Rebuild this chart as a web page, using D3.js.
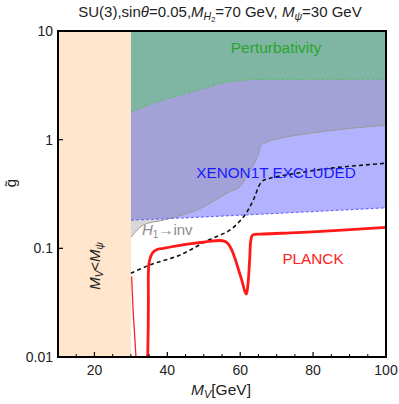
<!DOCTYPE html>
<html>
<head>
<meta charset="utf-8">
<script src="https://cdn.jsdelivr.net/npm/d3@7.9.0/dist/d3.min.js"></script>
<style>
  body { margin: 0; background: #fff; }
  text { font-family: "Liberation Sans", Arial, sans-serif; }
</style>
</head>
<body>
<svg id="chart" width="399" height="404"></svg>
<script>
// ---- data: [M_V (GeV), g~] ----
const perturbBoundary = [[30, 1.81], [37.4, 2.24], [46.7, 2.77], [55.8, 3.35], [61.3, 3.54], [80, 3.58], [100, 3.61]];
const xenonBoundary = [[30, 0.182], [45, 0.191], [61.3, 0.203], [80, 0.218], [100, 0.236]];
const invBoundary = [[30, 0.126], [33.4, 0.164], [38.9, 0.182], [48.1, 0.225], [56.3, 0.321], [59.9, 0.37],
  [61.8, 0.457], [65.0, 0.723], [66.1, 0.908], [100, 1.36]];
const dashedCurve = [[30, 0.059], [35.2, 0.0703], [43.5, 0.0869], [50.8, 0.117], [57.2, 0.1476], [61.3, 0.203],
  [63.6, 0.279], [65.9, 0.411], [68.2, 0.442], [75.5, 0.491], [84.6, 0.546], [100, 0.607]];
const planckLeft = [[30.2, 0.055], [30.6, 0.0271], [31.4, 0.01]];
const planckRight = [[34.6, 0.01], [34.75, 0.0178], [34.8, 0.0335], [34.85, 0.066], [35.2, 0.0795], [36.0, 0.0915],
  [37.2, 0.0975], [38.9, 0.1], [43.5, 0.1065], [48.1, 0.112], [52, 0.1165], [54.3, 0.118], [55.6, 0.1165],
  [56.6, 0.111], [57.6, 0.098], [58.6, 0.08], [59.6, 0.0625], [60.5, 0.05], [61.3, 0.04], [61.7, 0.038],
  [62.2, 0.05], [62.6, 0.08], [62.9, 0.118], [63.4, 0.1327], [66.3, 0.1355], [75.5, 0.1393], [84.6, 0.1445], [100, 0.156]];
const mvMin = 10, mvMax = 100, mPsi = 30;
const gMin = 0.01, gMax = 10;
const xTicks = [20, 40, 60, 80, 100];
const xMinorTicks = d3.range(15, 100, 5).filter(v => v % 20 !== 0);
const yTicks = [0.01, 0.1, 1, 10];
const yTickLabels = ['0.01', '0.1', '1', '10'];

// ---- layout ----
const svg = d3.select('#chart');
const m = { left: 58, right: 386, top: 31, bottom: 357 };
const x = d3.scaleLinear().domain([mvMin, mvMax]).range([m.left, m.right]);
const y = d3.scaleLog().domain([gMin, gMax]).range([m.bottom, m.top]);

const line = d3.line().x(d => x(d[0])).y(d => y(d[1]));
const smooth = d3.line().x(d => x(d[0])).y(d => y(d[1])).curve(d3.curveCatmullRom.alpha(0.5));
const areaUp = d3.area().x(d => x(d[0])).y0(y(gMax)).y1(d => y(d[1]));
const areaSmooth = d3.area().x(d => x(d[0])).y0(y(gMax)).y1(d => y(d[1])).curve(d3.curveCatmullRom.alpha(0.5));

svg.append('defs').append('clipPath').attr('id', 'clip')
  .append('rect').attr('x', m.left).attr('y', m.top)
  .attr('width', m.right - m.left).attr('height', m.bottom - m.top);

const plot = svg.append('g').attr('clip-path', 'url(#clip)');

// regions
plot.append('path').datum(xenonBoundary).attr('d', areaUp).attr('fill', '#0000ff').attr('fill-opacity', 0.3);
plot.append('path').datum(invBoundary).attr('d', areaSmooth).attr('fill', '#838383').attr('fill-opacity', 0.32);
plot.append('path').datum(invBoundary).attr('d', smooth).attr('fill', 'none').attr('stroke', '#9a9a9a').attr('stroke-width', 1);
plot.append('path').datum(xenonBoundary).attr('d', line).attr('fill', 'none')
  .attr('stroke', '#6b6bff').attr('stroke-width', 1.2).attr('stroke-dasharray', '3,2');
plot.append('path').datum(perturbBoundary).attr('d', areaSmooth).attr('fill', '#7fb5a3');
plot.append('path').datum(perturbBoundary).attr('d', smooth).attr('fill', 'none')
  .attr('stroke', '#5fbf6a').attr('stroke-width', 1.2).attr('stroke-dasharray', '3,2');
plot.append('rect').attr('x', x(mvMin)).attr('y', y(gMax))
  .attr('width', x(mPsi) - x(mvMin)).attr('height', y(gMin) - y(gMax)).attr('fill', '#fee5cc');

// curves
plot.append('path').datum(dashedCurve).attr('d', smooth).attr('fill', 'none')
  .attr('stroke', '#111').attr('stroke-width', 1.6).attr('stroke-dasharray', '4,3');
plot.append('path').datum(planckLeft).attr('d', line).attr('fill', 'none').attr('stroke', '#ff2020').attr('stroke-width', 1.3);
plot.append('path').datum(planckRight).attr('d', smooth).attr('fill', 'none')
  .attr('stroke', '#ff1a1a').attr('stroke-width', 2.8).attr('stroke-linejoin', 'round');

// in-plot labels
plot.append('text').attr('x', 276).attr('y', 53).attr('text-anchor', 'middle')
  .attr('font-size', 15.5).attr('fill', '#2aa52a').text('Perturbativity');
plot.append('text').attr('x', 276).attr('y', 178).attr('text-anchor', 'middle')
  .attr('font-size', 15.3).attr('fill', '#1a1aff').text('XENON1T EXCLUDED');
plot.append('text').attr('x', 313).attr('y', 264).attr('text-anchor', 'middle')
  .attr('font-size', 15.3).attr('fill', '#ff2020').text('PLANCK');
const inv = plot.append('text').attr('x', 142).attr('y', 235).attr('font-size', 15).attr('fill', '#8c8c8c');
inv.append('tspan').attr('font-style', 'italic').text('H');
inv.append('tspan').attr('font-size', 10).attr('dy', 3).text('1');
inv.append('tspan').attr('dy', -3).text('→inv');
const mv = plot.append('text').attr('transform', `translate(100,266) rotate(-90)`)
  .attr('text-anchor', 'middle').attr('font-size', 15).attr('fill', '#222');
mv.append('tspan').attr('font-style', 'italic').text('M');
mv.append('tspan').attr('font-size', 10).attr('font-style', 'italic').attr('dy', 3).text('V');
mv.append('tspan').attr('dy', -3).text('<');
mv.append('tspan').attr('font-style', 'italic').text('M');
mv.append('tspan').attr('font-size', 10).attr('font-style', 'italic').attr('dy', 3).text('ψ');

// frame and ticks
const axes = svg.append('g');
axes.append('rect').attr('x', m.left).attr('y', m.top).attr('width', m.right - m.left).attr('height', m.bottom - m.top)
  .attr('fill', 'none').attr('stroke', '#000').attr('stroke-width', 2);
axes.selectAll('.xmaj').data(xTicks).join('line')
  .attr('x1', d => x(d)).attr('x2', d => x(d)).attr('y1', m.bottom).attr('y2', m.bottom - 5)
  .attr('stroke', '#000').attr('stroke-width', 1.2);
axes.selectAll('.xmin').data(xMinorTicks).join('line')
  .attr('x1', d => x(d)).attr('x2', d => x(d)).attr('y1', m.bottom).attr('y2', m.bottom - 3)
  .attr('stroke', '#000').attr('stroke-width', 1);
axes.selectAll('.ymaj').data(yTicks).join('line')
  .attr('x1', m.left).attr('x2', m.left + 5).attr('y1', d => y(d)).attr('y2', d => y(d))
  .attr('stroke', '#000').attr('stroke-width', 1.2);
axes.selectAll('.xlab').data(xTicks).join('text')
  .attr('x', d => x(d)).attr('y', 375).attr('text-anchor', 'middle').attr('font-size', 14).attr('fill', '#222')
  .text(d => d);
axes.selectAll('.ylab').data(yTicks).join('text')
  .attr('x', 53).attr('y', d => y(d) + 5).attr('text-anchor', 'end').attr('font-size', 14).attr('fill', '#222')
  .text((d, i) => yTickLabels[i]);

// axis titles
const xl = svg.append('text').attr('x', 221).attr('y', 395).attr('text-anchor', 'middle').attr('font-size', 15.5).attr('fill', '#222');
xl.append('tspan').attr('font-style', 'italic').text('M');
xl.append('tspan').attr('font-style', 'italic').attr('font-size', 11).attr('dy', 3).text('V');
xl.append('tspan').attr('dy', -3).text('[GeV]');
svg.append('text').attr('transform', 'translate(16,183) rotate(-90)').attr('text-anchor', 'middle')
  .attr('font-size', 15).attr('fill', '#222').text('g̃');

// title
const t = svg.append('text').attr('x', 220).attr('y', 17).attr('text-anchor', 'middle').attr('font-size', 15).attr('fill', '#222');
t.append('tspan').text('SU(3),sin');
t.append('tspan').attr('font-style', 'italic').text('θ');
t.append('tspan').text('=0.05,');
t.append('tspan').attr('font-style', 'italic').text('M');
t.append('tspan').attr('font-style', 'italic').attr('font-size', 10.5).attr('dy', 3).text('H');
t.append('tspan').attr('font-size', 7.5).attr('dy', 2).text('2');
t.append('tspan').attr('dy', -5).text('=70 GeV, ');
t.append('tspan').attr('font-style', 'italic').text('M');
t.append('tspan').attr('font-style', 'italic').attr('font-size', 10.5).attr('dy', 3).text('ψ');
t.append('tspan').attr('dy', -3).text('=30 GeV');
</script>
</body>
</html>
